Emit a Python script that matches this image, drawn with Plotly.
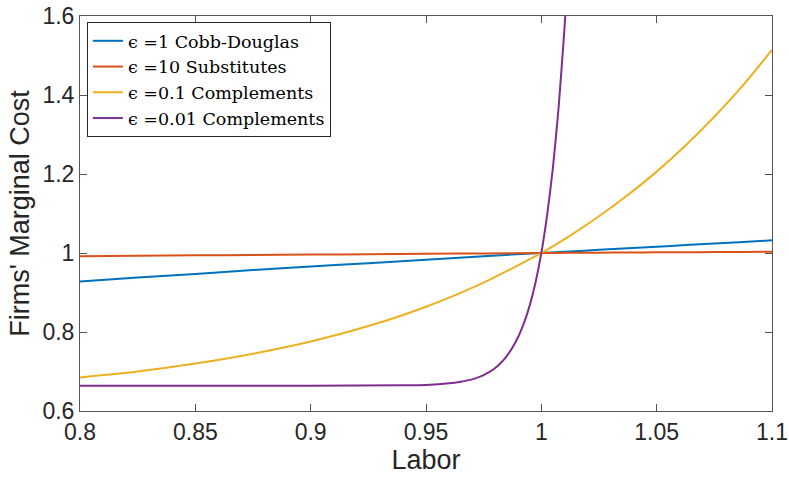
import plotly.graph_objects as go

# Labor grid (x) and marginal cost readings for each series
labor = [0.80, 0.825, 0.85, 0.875, 0.90, 0.925, 0.95, 0.975, 1.00,
         1.0125, 1.025, 1.0375, 1.05, 1.0625, 1.075, 1.0875, 1.10]

mc_cobb = [0.928, 0.938, 0.947, 0.957, 0.966, 0.974, 0.983, 0.992, 1.000,
           1.004, 1.008, 1.012, 1.016, 1.020, 1.024, 1.028, 1.032]

mc_subs = [0.992, 0.993, 0.994, 0.995, 0.996, 0.997, 0.998, 0.999, 1.000,
           1.0004, 1.0008, 1.0012, 1.0016, 1.0020, 1.0024, 1.0028, 1.003]

mc_comp1 = [0.685, 0.700, 0.720, 0.745, 0.776, 0.815, 0.864, 0.925, 1.000,
            1.044, 1.093, 1.147, 1.206, 1.272, 1.345, 1.425, 1.514]

labor_c2 = [0.80, 0.85, 0.90, 0.94, 0.95, 0.96, 0.965, 0.97, 0.975, 0.9775,
            0.98, 0.9825, 0.985, 0.9875, 0.99, 0.9925, 0.995, 0.9975, 1.00,
            1.0025, 1.005, 1.0075, 1.01, 1.0105]
mc_comp2 = [0.664, 0.664, 0.664, 0.665, 0.666, 0.670, 0.674, 0.680, 0.691, 0.699,
            0.709, 0.722, 0.739, 0.761, 0.788, 0.823, 0.868, 0.926, 1.000,
            1.095, 1.215, 1.369, 1.566, 1.612]

names = ["ϵ =1 Cobb-Douglas", "ϵ =10 Substitutes",
         "ϵ =0.1 Complements", "ϵ =0.01 Complements"]
colors = ["#0072BD", "#D95319", "#EDB120", "#7E2F8E"]

x_ticks = [0.8, 0.85, 0.9, 0.95, 1.0, 1.05, 1.1]
x_tick_text = ["0.8", "0.85", "0.9", "0.95", "1", "1.05", "1.1"]
y_ticks = [0.6, 0.8, 1.0, 1.2, 1.4, 1.6]
y_tick_text = ["0.6", "0.8", "1", "1.2", "1.4", "1.6"]

series = [(labor, mc_cobb), (labor, mc_subs), (labor, mc_comp1), (labor_c2, mc_comp2)]

fig = go.Figure()
for (xs, ys), nm, col in zip(series, names, colors):
    fig.add_trace(go.Scatter(x=xs, y=ys, mode="lines", name=nm,
                             line=dict(color=col, width=2, shape="spline", smoothing=0.6)))

sans = "Liberation Sans, Arial, Helvetica"
tick_font = dict(family=sans, size=23, color="#262626")
title_font = dict(family=sans, size=27, color="#262626")
axis_common = dict(showgrid=False, zeroline=False, showline=True, linecolor="#555555",
                   linewidth=1, mirror="ticks", ticks="inside", ticklen=7,
                   tickcolor="#555555", tickfont=tick_font, automargin=False,
                   ticklabeloverflow="allow")

fig.update_layout(
    width=789, height=480,
    margin=dict(l=80, r=17, t=16, b=69),
    paper_bgcolor="white", plot_bgcolor="white",
    font=tick_font,
    showlegend=True,
    legend=dict(x=0.01, y=0.985, xanchor="left", yanchor="top",
                bgcolor="white", bordercolor="#262626", borderwidth=1,
                font=dict(family="DejaVu Serif, Liberation Serif, serif", size=17.5, color="black"),
                itemwidth=30, tracegroupgap=0),
    xaxis=dict(range=[0.8, 1.1], tickvals=x_ticks, ticktext=x_tick_text,
               title=dict(text="Labor", font=title_font, standoff=4), **axis_common),
    yaxis=dict(range=[0.6, 1.6], tickvals=y_ticks, ticktext=y_tick_text,
               title=dict(text="Firms' Marginal Cost", font=title_font, standoff=4), **axis_common),
)

# remove the browser's default 8px page margin so the figure sits at (0, 0)
fig.write_html("out.html", config={"displayModeBar": False},
               post_script="document.body.style.margin='0';document.body.style.padding='0';")
